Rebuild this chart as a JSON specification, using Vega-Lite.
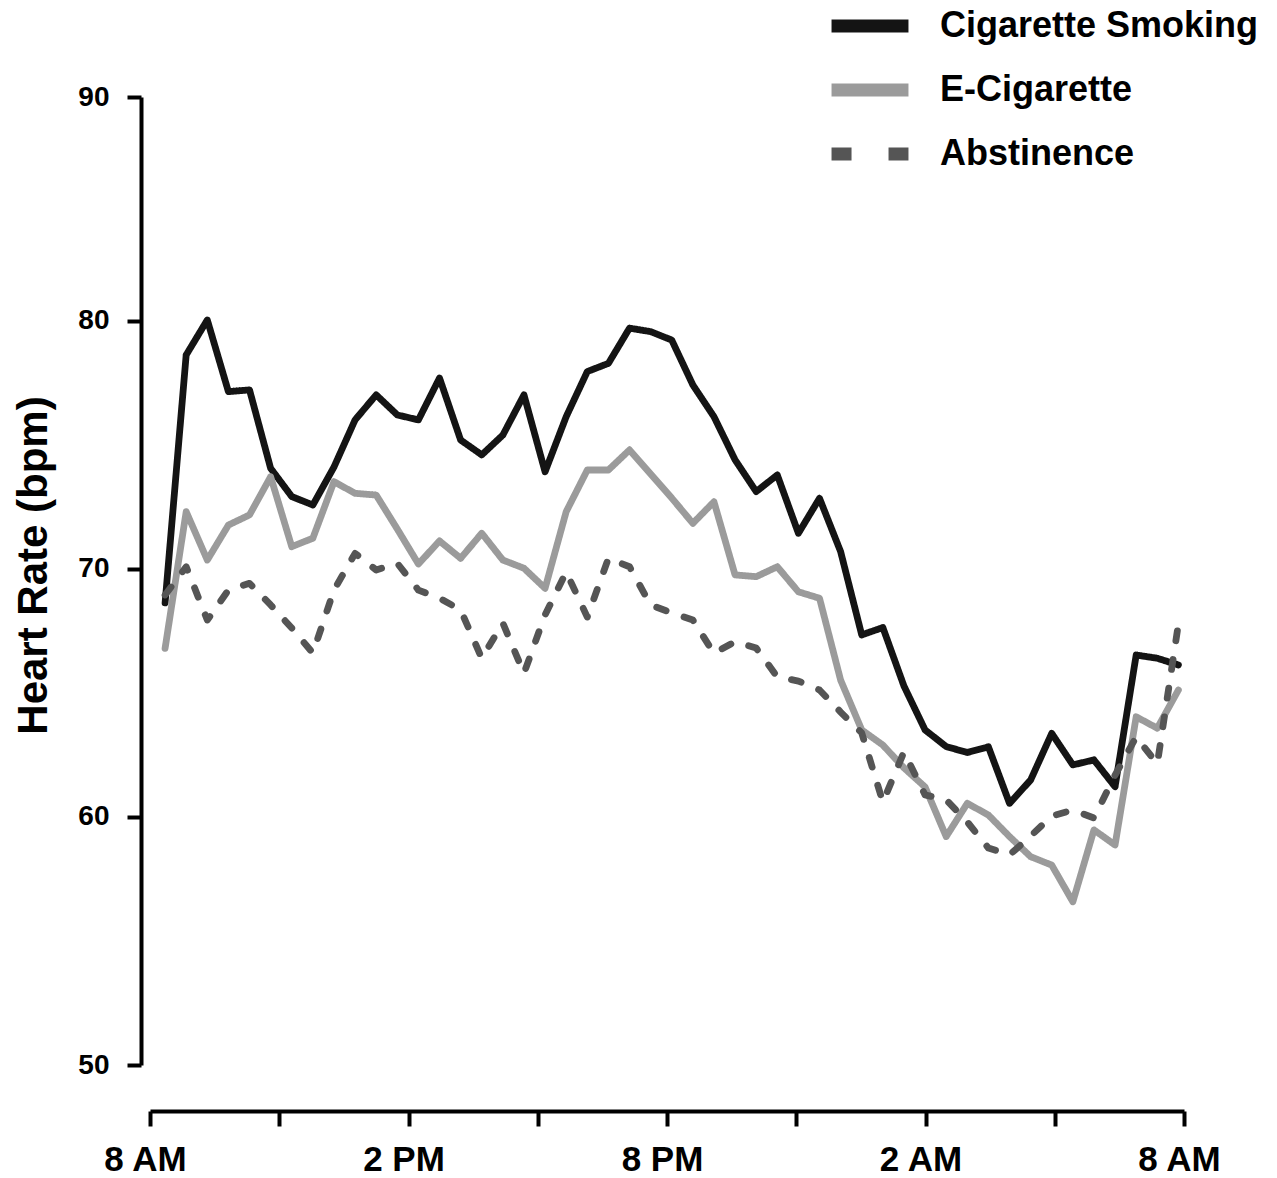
{
  "$schema": "https://vega.github.io/schema/vega-lite/v6.json",
  "width": 1034,
  "height": 968,
  "autosize": {"type": "none"},
  "padding": {"left": 150, "top": 97, "right": 93, "bottom": 113},
  "background": "white",
  "config": {"view": {"stroke": null}, "font": "Liberation Sans"},
  "data": {"values": [
    {"t": 0.35, "Cigarette Smoking": 68.63, "E-Cigarette": 66.8, "Abstinence": 68.95},
    {"t": 0.84, "Cigarette Smoking": 78.63, "E-Cigarette": 72.31, "Abstinence": 70.09},
    {"t": 1.33, "Cigarette Smoking": 80.04, "E-Cigarette": 70.36, "Abstinence": 67.94},
    {"t": 1.82, "Cigarette Smoking": 77.15, "E-Cigarette": 71.77, "Abstinence": 69.15},
    {"t": 2.31, "Cigarette Smoking": 77.22, "E-Cigarette": 72.18, "Abstinence": 69.42},
    {"t": 2.80, "Cigarette Smoking": 74.06, "E-Cigarette": 73.72, "Abstinence": 68.55},
    {"t": 3.29, "Cigarette Smoking": 72.92, "E-Cigarette": 70.9, "Abstinence": 67.62},
    {"t": 3.78, "Cigarette Smoking": 72.58, "E-Cigarette": 71.24, "Abstinence": 66.61},
    {"t": 4.27, "Cigarette Smoking": 74.11, "E-Cigarette": 73.52, "Abstinence": 69.15},
    {"t": 4.76, "Cigarette Smoking": 76.01, "E-Cigarette": 73.05, "Abstinence": 70.63},
    {"t": 5.25, "Cigarette Smoking": 77.02, "E-Cigarette": 72.98, "Abstinence": 69.96},
    {"t": 5.74, "Cigarette Smoking": 76.21, "E-Cigarette": 71.61, "Abstinence": 70.23},
    {"t": 6.23, "Cigarette Smoking": 76.01, "E-Cigarette": 70.2, "Abstinence": 69.15},
    {"t": 6.72, "Cigarette Smoking": 77.70, "E-Cigarette": 71.13, "Abstinence": 68.82},
    {"t": 7.21, "Cigarette Smoking": 75.2, "E-Cigarette": 70.43, "Abstinence": 68.35},
    {"t": 7.70, "Cigarette Smoking": 74.6, "E-Cigarette": 71.44, "Abstinence": 66.4},
    {"t": 8.19, "Cigarette Smoking": 75.4, "E-Cigarette": 70.36, "Abstinence": 67.82},
    {"t": 8.68, "Cigarette Smoking": 77.02, "E-Cigarette": 70.03, "Abstinence": 65.79},
    {"t": 9.17, "Cigarette Smoking": 73.92, "E-Cigarette": 69.22, "Abstinence": 68.15},
    {"t": 9.66, "Cigarette Smoking": 76.14, "E-Cigarette": 72.31, "Abstinence": 69.88},
    {"t": 10.15, "Cigarette Smoking": 77.96, "E-Cigarette": 73.99, "Abstinence": 68.06},
    {"t": 10.64, "Cigarette Smoking": 78.29, "E-Cigarette": 73.99, "Abstinence": 70.43},
    {"t": 11.13, "Cigarette Smoking": 79.71, "E-Cigarette": 74.8, "Abstinence": 70.09},
    {"t": 11.62, "Cigarette Smoking": 79.57, "E-Cigarette": 73.83, "Abstinence": 68.55},
    {"t": 12.11, "Cigarette Smoking": 79.23, "E-Cigarette": 72.86, "Abstinence": 68.23},
    {"t": 12.60, "Cigarette Smoking": 77.42, "E-Cigarette": 71.84, "Abstinence": 67.94},
    {"t": 13.09, "Cigarette Smoking": 76.14, "E-Cigarette": 72.71, "Abstinence": 66.6},
    {"t": 13.58, "Cigarette Smoking": 74.4, "E-Cigarette": 69.76, "Abstinence": 67.07},
    {"t": 14.07, "Cigarette Smoking": 73.12, "E-Cigarette": 69.69, "Abstinence": 66.81},
    {"t": 14.56, "Cigarette Smoking": 73.79, "E-Cigarette": 70.09, "Abstinence": 65.65},
    {"t": 15.05, "Cigarette Smoking": 71.44, "E-Cigarette": 69.08, "Abstinence": 65.48},
    {"t": 15.54, "Cigarette Smoking": 72.85, "E-Cigarette": 68.82, "Abstinence": 65.12},
    {"t": 16.03, "Cigarette Smoking": 70.7, "E-Cigarette": 65.52, "Abstinence": 64.23},
    {"t": 16.52, "Cigarette Smoking": 67.34, "E-Cigarette": 63.51, "Abstinence": 63.39},
    {"t": 17.01, "Cigarette Smoking": 67.64, "E-Cigarette": 62.9, "Abstinence": 60.6},
    {"t": 17.50, "Cigarette Smoking": 65.28, "E-Cigarette": 61.98, "Abstinence": 62.62},
    {"t": 17.99, "Cigarette Smoking": 63.51, "E-Cigarette": 61.21, "Abstinence": 60.89},
    {"t": 18.48, "Cigarette Smoking": 62.84, "E-Cigarette": 59.21, "Abstinence": 60.69},
    {"t": 18.97, "Cigarette Smoking": 62.6, "E-Cigarette": 60.55, "Abstinence": 59.8},
    {"t": 19.46, "Cigarette Smoking": 62.83, "E-Cigarette": 60.08, "Abstinence": 58.75},
    {"t": 19.95, "Cigarette Smoking": 60.55, "E-Cigarette": 59.21, "Abstinence": 58.47},
    {"t": 20.44, "Cigarette Smoking": 61.49, "E-Cigarette": 58.4, "Abstinence": 59.23},
    {"t": 20.93, "Cigarette Smoking": 63.37, "E-Cigarette": 58.06, "Abstinence": 60.04},
    {"t": 21.42, "Cigarette Smoking": 62.1, "E-Cigarette": 56.58, "Abstinence": 60.28},
    {"t": 21.91, "Cigarette Smoking": 62.3, "E-Cigarette": 59.48, "Abstinence": 59.96},
    {"t": 22.40, "Cigarette Smoking": 61.22, "E-Cigarette": 58.87, "Abstinence": 61.69},
    {"t": 22.89, "Cigarette Smoking": 66.53, "E-Cigarette": 64.04, "Abstinence": 63.23},
    {"t": 23.38, "Cigarette Smoking": 66.4, "E-Cigarette": 63.58, "Abstinence": 62.14},
    {"t": 23.87, "Cigarette Smoking": 66.13, "E-Cigarette": 65.12, "Abstinence": 67.78}
  ]},
  "transform": [{"fold": ["Cigarette Smoking", "E-Cigarette", "Abstinence"], "as": ["series", "hr"]}],
  "mark": {"type": "line", "strokeWidth": 6.8, "strokeJoin": "round", "strokeCap": "round"},
  "encoding": {
    "x": {
      "field": "t", "type": "quantitative",
      "scale": {"domain": [0, 24], "nice": false, "zero": false},
      "axis": {
        "values": [0, 3, 6, 9, 12, 15, 18, 21, 24],
        "labelExpr": "datum.value == 0 || datum.value == 24 ? '8 AM' : datum.value == 6 ? '2 PM' : datum.value == 12 ? '8 PM' : datum.value == 18 ? '2 AM' : ''",
        "title": null, "offset": 46, "grid": false,
        "domainColor": "#000", "domainWidth": 4,
        "tickColor": "#000", "tickWidth": 4, "tickSize": 15,
        "labelFontSize": 35, "labelFontWeight": "bold", "labelColor": "#000",
        "labelPadding": 16, "labelFlush": false, "labelOverlap": false, "labelOffset": -5
      }
    },
    "y": {
      "field": "hr", "type": "quantitative",
      "scale": {"domain": [50, 89.03], "nice": false, "zero": false},
      "axis": {
        "values": [50, 60, 70, 80, 89.03],
        "labelExpr": "datum.value > 85 ? '90' : datum.label",
        "title": "Heart Rate (bpm)", "offset": 9, "grid": false,
        "domainColor": "#000", "domainWidth": 4,
        "tickColor": "#000", "tickWidth": 4, "tickSize": 14,
        "labelFontSize": 28, "labelFontWeight": "bold", "labelColor": "#000",
        "labelPadding": 18, "labelFlush": false, "labelOverlap": false,
        "titleFontSize": 42, "titleFontWeight": "bold", "titleColor": "#000",
        "titleX": -95, "titleY": 468, "titleBaseline": "alphabetic", "titleAlign": "center", "titleAngle": -90
      }
    },
    "color": {
      "field": "series", "type": "nominal",
      "scale": {"domain": ["Cigarette Smoking", "E-Cigarette", "Abstinence"], "range": ["#141414", "#9b9b9b", "#555555"]},
      "legend": {
        "orient": "none", "legendX": 702, "legendY": -89, "title": null,
        "symbolType": "M-4,0H4", "symbolSize": 370, "symbolStrokeWidth": 13, "symbolOffset": 0,
        "labelFontSize": 36, "labelFontWeight": "bold", "labelColor": "#000", "labelLimit": 0,
        "labelOffset": 52, "rowPadding": 12, "padding": 0,
        "encode": {"symbols": {"update": {"strokeDash": {"signal": "datum.value === 'Abstinence' ? [20, 37] : [1, 0]"}}}}
      }
    },
    "strokeDash": {
      "field": "series", "type": "nominal",
      "scale": {"domain": ["Abstinence", "Cigarette Smoking", "E-Cigarette"], "range": [[10, 19], [1, 0], [1, 0]]},
      "legend": null
    }
  }
}
